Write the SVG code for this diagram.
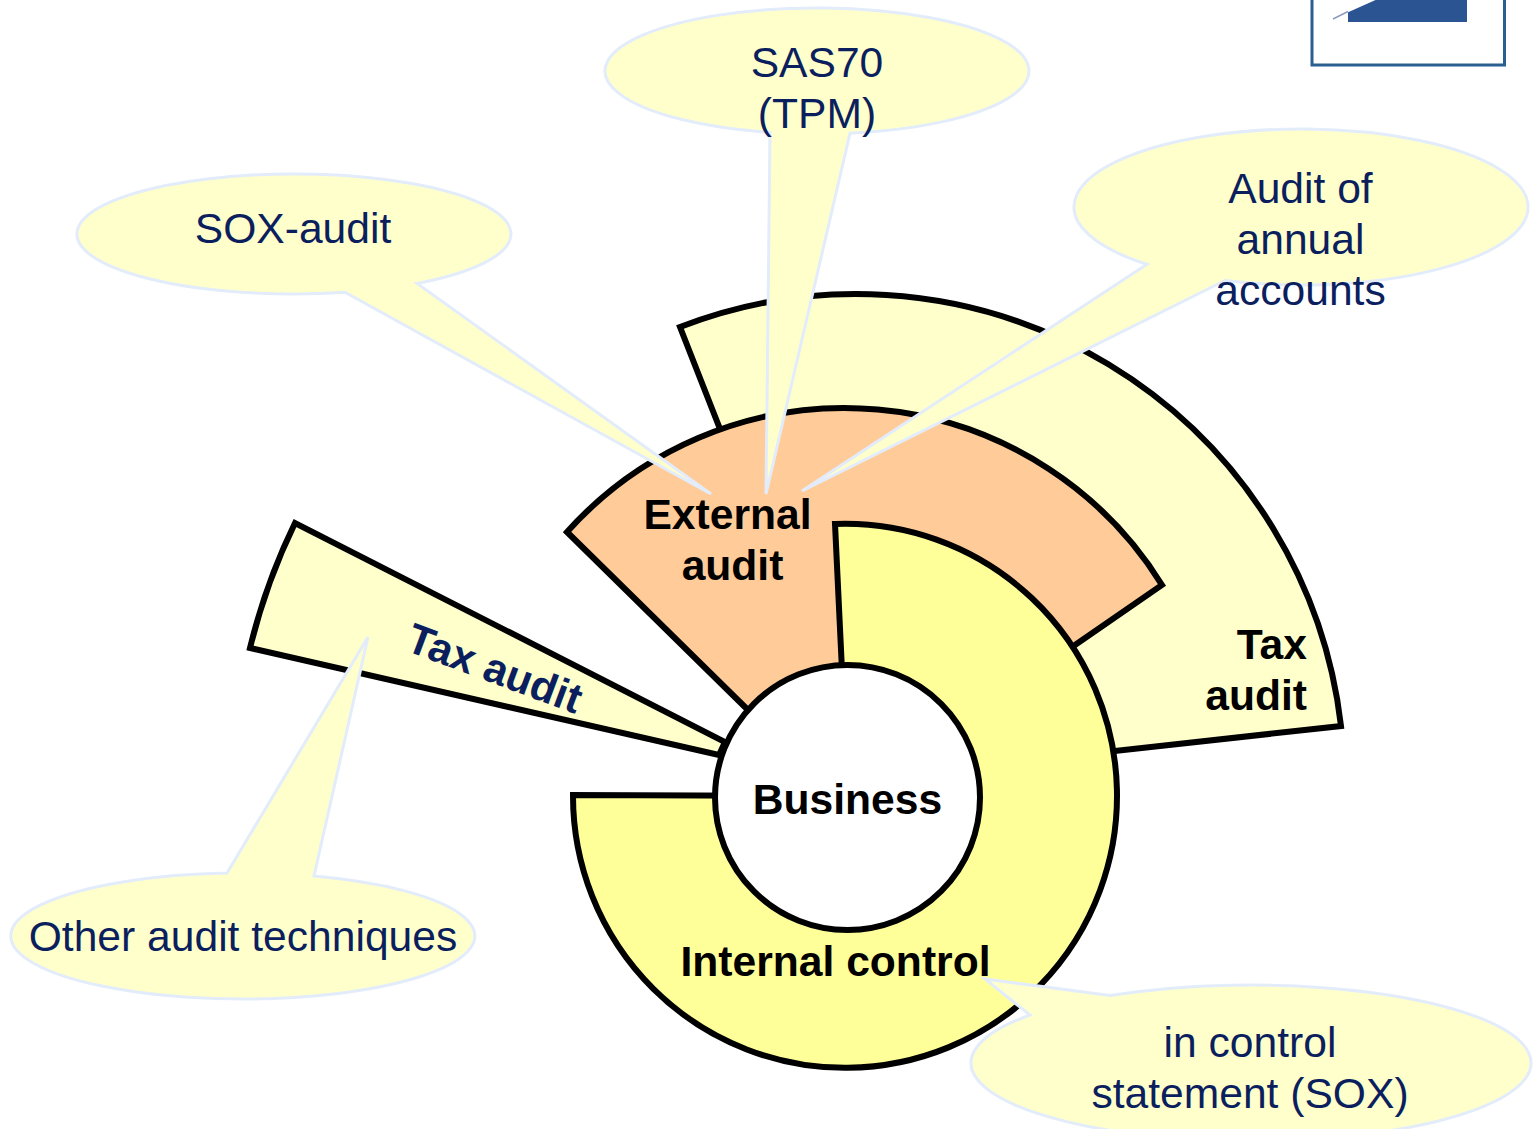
<svg xmlns="http://www.w3.org/2000/svg" width="1534" height="1129" viewBox="0 0 1534 1129">
<style>
text{font-family:"Liberation Sans",Arial,sans-serif;font-size:42.6px;text-anchor:middle}
.b{font-weight:bold;fill:#000}
.c{fill:#0B1F5E}
.s{stroke:#000;stroke-width:6;stroke-linejoin:miter}
.bub{fill:#FFFFCC;stroke:#E3ECFB;stroke-width:3;stroke-linejoin:miter}
</style>
<rect width="1534" height="1129" fill="#fff"/>
<g id="logo">
<rect x="1312" y="-10" width="192.500" height="75" fill="#fff" stroke="#2A5F8F" stroke-width="3"/>
<rect x="1348" y="-5" width="119" height="27" fill="#2B5592"/>
<path d="M1333 19L1380 -2L1348 -2L1348 10Z" fill="#fff"/>
<path d="M1333 19L1348 11.500" stroke="#8C9CC0" stroke-width="1.500" fill="none"/>
</g>
<g id="tax-audit-left">
<path class="s" fill="#FFFFCC" d="M295 523A617 617 0 0 0 250 648L719 755L725 742Z"/>
<text class="c" style="font-weight:bold;font-size:42.4px;text-anchor:start" transform="translate(404 650) rotate(20.500)">Tax audit</text>
</g>
<g id="tax-audit-right">
<path class="s" fill="#FFFFCC" d="M680 327A488 488 0 0 1 1341 726L1115 751L900 700L740 480Z"/>
<text class="b" style="text-anchor:end" x="1307" y="659">Tax</text>
<text class="b" style="text-anchor:end" x="1307" y="710">audit</text>
</g>
<g id="external-audit">
<path class="s" fill="#FFCC99" d="M748 710L567 532A373 373 0 0 1 1162 585L1075 645L848 796Z"/>
</g>
<g id="internal-control">
<path class="s" fill="#FFFF99" d="M835 524A272 272 0 1 1 573 795L848 796Z"/>
</g>
<g id="business">
<circle class="s" cx="847.500" cy="797.500" r="132.500" fill="#fff"/>
<text class="b" x="847.500" y="814">Business</text>
</g>
<g id="callout-sox-audit">
<path class="bub" d="M417 283.400A217 60 0 1 0 345 292.300L711 494Z"/>
<text class="c" x="293" y="243">SOX-audit</text>
</g>
<g id="callout-sas70">
<path class="bub" d="M850 133.200A212 63 0 1 0 770 132.400L766 494Z"/>
<text class="c" x="817" y="77">SAS70</text>
<text class="c" x="817" y="128">(TPM)</text>
</g>
<g id="callout-annual-accounts">
<path class="bub" d="M1225 280.500A227 78 0 1 0 1147 264.300L802 491Z"/>
<text class="c" x="1300.500" y="203">Audit of</text>
<text class="c" x="1300.500" y="254">annual</text>
<text class="c" x="1300.500" y="305">accounts</text>
</g>
<g id="callout-other">
<path class="bub" d="M227 873.100A232 63 0 1 0 314 876L368 637Z"/>
<text class="c" x="243" y="951">Other audit techniques</text>
</g>
<g id="callout-in-control">
<path class="bub" d="M1030 1015.100A280 78 0 1 0 1110 995.600L985 979Z"/>
<text class="c" x="1250" y="1057">in control</text>
<text class="c" x="1250" y="1108">statement (SOX)</text>
</g>
<g id="labels">
<text class="b" x="727.500" y="529">External</text>
<text class="b" x="732.500" y="580">audit</text>
<text class="b" x="835.500" y="976">Internal control</text>
</g>
<g id="connectors"></g>
</svg>
